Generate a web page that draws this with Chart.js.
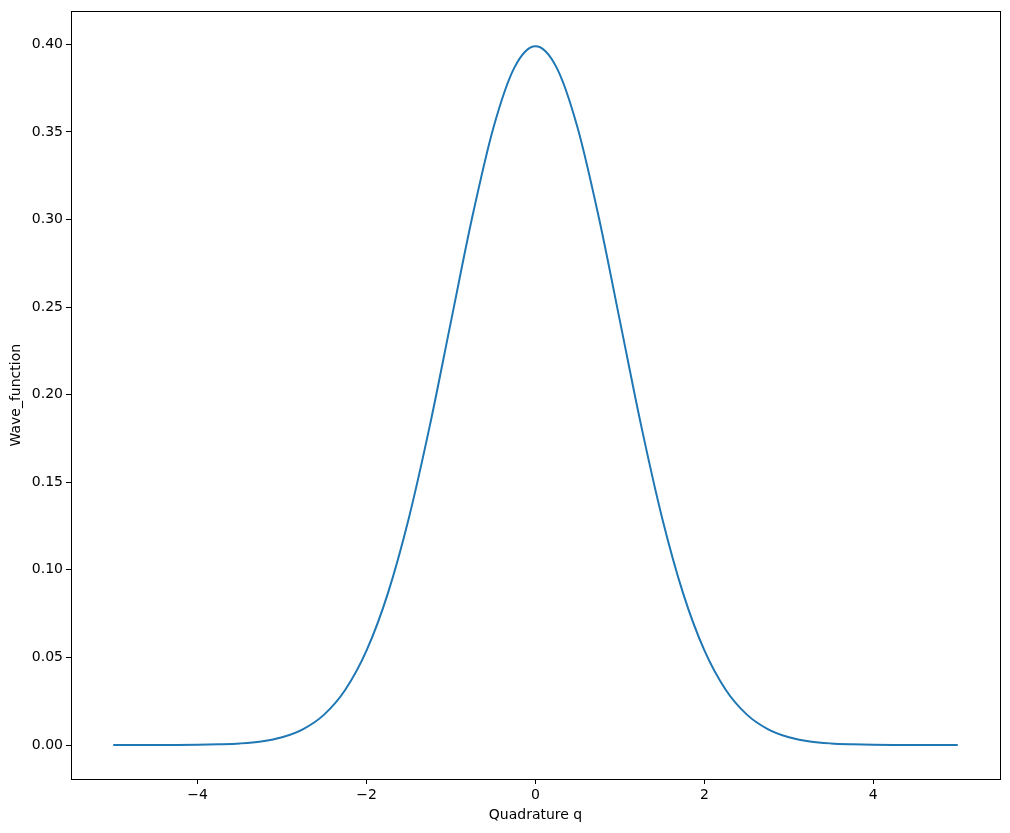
<!DOCTYPE html>
<html>
<head>
<meta charset="utf-8">
<script src="https://cdn.jsdelivr.net/npm/chart.js@4"></script>
<style>
  html, body { margin: 0; padding: 0; background: #fff; }
  #wrap { width: 1010px; height: 833px; }
</style>
</head>
<body>
<div id="wrap"><canvas id="waveChart" width="1010" height="833"></canvas></div>
<script>
// quadrature values and wave function
const qValues = [-5, -4.75, -4.5, -4.25, -4, -3.75, -3.5, -3.25, -3, -2.75, -2.5, -2.25, -2, -1.75, -1.5, -1.25, -1, -0.75, -0.5, -0.25,
  0, 0.25, 0.5, 0.75, 1, 1.25, 1.5, 1.75, 2, 2.25, 2.5, 2.75, 3, 3.25, 3.5, 3.75, 4, 4.25, 4.5, 4.75, 5];
const waveValues = [0.0000, 0.0000, 0.0000, 0.0000, 0.0001, 0.0004, 0.0009, 0.0020, 0.0044, 0.0091, 0.0175, 0.0317, 0.0540, 0.0863, 0.1295, 0.1826, 0.2420, 0.3011, 0.3521, 0.3867,
  0.3989, 0.3867, 0.3521, 0.3011, 0.2420, 0.1826, 0.1295, 0.0863, 0.0540, 0.0317, 0.0175, 0.0091, 0.0044, 0.0020, 0.0009, 0.0004, 0.0001, 0.0000, 0.0000, 0.0000, 0.0000];
const xTicks = [-4, -2, 0, 2, 4];
const yTicks = [0, 0.05, 0.10, 0.15, 0.20, 0.25, 0.30, 0.35, 0.40];

const fontFamily = "'DejaVu Sans', sans-serif";
const lineColor = '#1f77b4';

// cadre complet autour de la zone du graphe
const frameBox = {
  id: 'frameBox',
  afterDraw(chart) {
    const { ctx, chartArea: a } = chart;
    ctx.save();
    ctx.strokeStyle = '#000';
    ctx.lineWidth = 1;
    ctx.strokeRect(Math.round(a.left) + 0.5, Math.round(a.top) + 0.5, Math.round(a.right - a.left), Math.round(a.bottom - a.top));
    ctx.restore();
  }
};

const points = qValues.map((q, i) => ({ x: q, y: waveValues[i] }));

new Chart(document.getElementById('waveChart').getContext('2d'), {
  type: 'line',
  data: {
    datasets: [{
      data: points,
      borderColor: lineColor,
      borderWidth: 2,
      pointRadius: 0,
      fill: false,
      cubicInterpolationMode: 'monotone'
    }]
  },
  options: {
    responsive: false,
    animation: false,
    layout: { padding: { top: 10, right: 10, left: 0, bottom: 0 } },
    plugins: { legend: { display: false }, tooltip: { enabled: false } },
    scales: {
      x: {
        type: 'linear',
        min: -5.5,
        max: 5.5,
        afterBuildTicks: (axis) => { axis.ticks = xTicks.map(v => ({ value: v })); },
        afterFit: (axis) => { axis.height = 54; },
        grid: { display: true, drawOnChartArea: false, drawTicks: true, tickLength: 5, color: '#000' },
        border: { display: false },
        ticks: {
          color: '#000',
          font: { family: fontFamily, size: 14 },
          padding: 3,
          maxRotation: 0,
          callback: (v) => String(v).replace('-', '\u2212')
        },
        title: { display: true, text: 'Quadrature q', color: '#000', font: { family: fontFamily, size: 14 }, padding: { top: 0, bottom: 9 } }
      },
      y: {
        type: 'linear',
        min: -0.0194,
        max: 0.4188,
        afterBuildTicks: (axis) => { axis.ticks = yTicks.map(v => ({ value: v })); },
        afterFit: (axis) => { axis.width = 71; },
        grid: { display: true, drawOnChartArea: false, drawTicks: true, tickLength: 5, color: '#000' },
        border: { display: false },
        ticks: {
          color: '#000',
          font: { family: fontFamily, size: 14 },
          padding: 3,
          callback: (v) => Number(v).toFixed(2)
        },
        title: { display: true, text: 'Wave_function', color: '#000', font: { family: fontFamily, size: 14 }, padding: { top: 8, bottom: 0 } }
      }
    }
  },
  plugins: [frameBox]
});
</script>
</body>
</html>
